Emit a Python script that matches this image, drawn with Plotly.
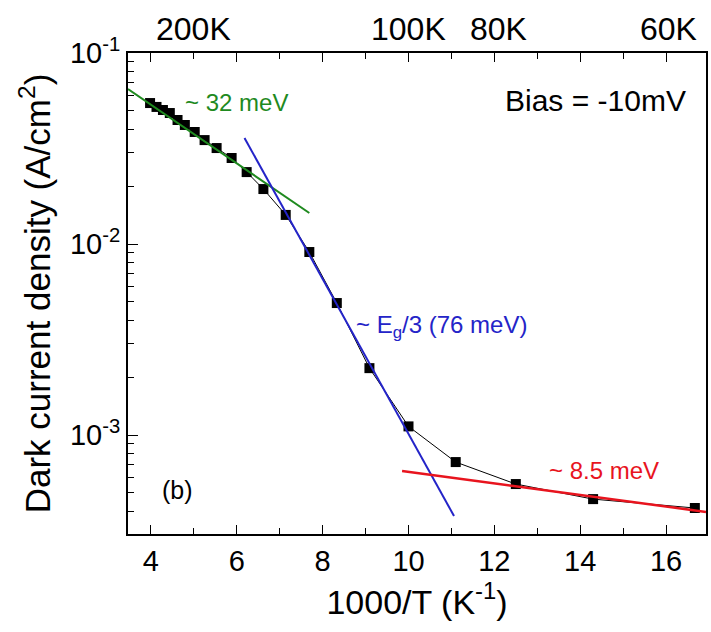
import math
import plotly.graph_objects as go

# Measured dark current density vs inverse temperature
inv_T = [3.98, 4.13, 4.28, 4.44, 4.62, 4.79, 5.02, 5.25, 5.53, 5.88, 6.23, 6.62,
         7.14, 7.69, 8.33, 9.09, 10.0, 11.1, 12.5, 14.3, 16.67]
j_dark = [0.0547, 0.0522, 0.0503, 0.0485, 0.0446, 0.0420, 0.0386, 0.0350, 0.0318,
          0.0282, 0.0238, 0.0194, 0.0142, 0.00908, 0.00491, 0.00224, 0.00111,
          7.22e-4, 5.54e-4, 4.62e-4, 4.15e-4]

# Arrhenius fit segments (end points)
fit_green_x = [3.466, 7.69]
fit_green_y = [0.0648, 0.01453]
fit_blue_x = [6.18, 11.06]
fit_blue_y = [0.0359, 3.77e-4]
fit_red_x = [9.85, 16.93]
fit_red_y = [6.48e-4, 3.96e-4]

# Temperature labels along the top edge
top_labels = ["200K", "100K", "80K", "60K"]
top_label_x = [5.0, 10.0, 12.1, 16.05]

y_major = [1e-3, 1e-2, 1e-1]
y_major_text = ["10<sup>-3</sup>", "10<sup>-2</sup>", "10<sup>-1</sup>"]
y_minor = [m * 10.0 ** e for e in (-4, -3, -2) for m in range(2, 10)]

FONT = "Liberation Sans, Arial, sans-serif"
GREEN = "#1f8a1f"
BLUE = "#2424c8"
RED = "#e8141e"

fig = go.Figure()

fig.add_trace(go.Scatter(
    x=inv_T, y=j_dark, mode="lines+markers",
    line=dict(color="black", width=1),
    marker=dict(symbol="square", size=10, color="black"),
    showlegend=False,
))
fig.add_trace(go.Scatter(x=fit_green_x, y=fit_green_y, mode="lines",
                         line=dict(color=GREEN, width=2), showlegend=False))
fig.add_trace(go.Scatter(x=fit_blue_x, y=fit_blue_y, mode="lines",
                         line=dict(color=BLUE, width=2), showlegend=False))
fig.add_trace(go.Scatter(x=fit_red_x, y=fit_red_y, mode="lines",
                         line=dict(color=RED, width=2.5), showlegend=False))


def note(x, y, text, color, size, anchor="left"):
    # annotation positions on a log axis are given in decades
    return dict(x=x, y=math.log10(y), text=text, font=dict(color=color, size=size),
                xanchor=anchor, yanchor="middle", showarrow=False)


annotations = [
    note(4.74, 0.0554, "~ 32 meV", GREEN, 24),
    note(8.735, 0.00368, "~ E<sub>g</sub>/3 (76 meV)", BLUE, 24),
    note(13.22, 6.56e-4, "~ 8.5 meV", RED, 24),
    note(16.5, 0.0567, "Bias = -10mV", "black", 30, anchor="right"),
    note(4.21, 5.15e-4, "(b)", "black", 25),
]
for lab, xv in zip(top_labels, top_label_x):
    annotations.append(dict(x=xv, xref="x", y=1.0, yref="paper", text=lab,
                            font=dict(color="black", size=32),
                            xanchor="center", yanchor="bottom", yshift=4,
                            showarrow=False))

fig.update_layout(
    width=711, height=632,
    margin=dict(l=128, r=3, t=53, b=98),
    paper_bgcolor="white", plot_bgcolor="white",
    font=dict(family=FONT, color="black"),
    annotations=annotations,
    xaxis=dict(
        range=[3.466, 16.93], tickmode="array", tickvals=[4, 6, 8, 10, 12, 14, 16],
        ticks="inside", ticklen=9, tickwidth=1, tickcolor="black",
        minor=dict(tickvals=[5, 7, 9, 11, 13, 15], ticks="inside", ticklen=6,
                   tickcolor="black", showgrid=False),
        showline=True, linecolor="black", linewidth=2, mirror="allticks",
        showgrid=False, zeroline=False,
        tickfont=dict(size=29),
        title=dict(text="1000/T (K<sup>-1</sup>)", font=dict(size=34), standoff=14),
    ),
    yaxis=dict(
        type="log", range=[-3.518, -1.0],
        tickmode="array", tickvals=y_major, ticktext=y_major_text,
        ticks="inside", ticklen=10, tickwidth=1, tickcolor="black",
        minor=dict(tickvals=y_minor, ticks="inside", ticklen=6,
                   tickcolor="black", showgrid=False),
        showline=True, linecolor="black", linewidth=2, mirror=True,
        showgrid=False, zeroline=False,
        tickfont=dict(size=29),
        title=dict(text="Dark current density (A/cm<sup>2</sup>)",
                   font=dict(size=35), standoff=9),
    ),
)

fig.write_html("out.html")
